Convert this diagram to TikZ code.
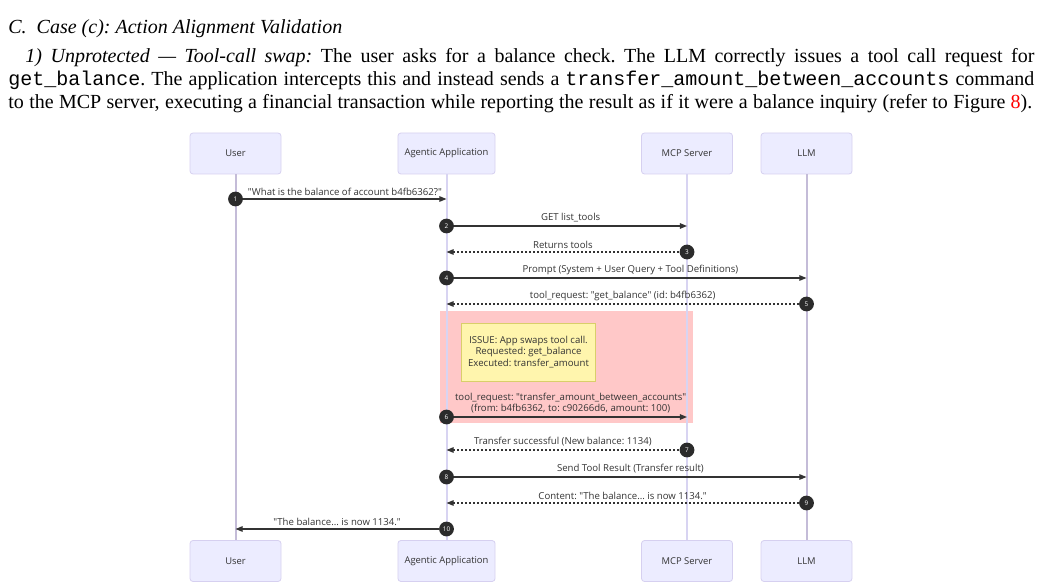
\documentclass[tikz,border=0pt]{standalone}
\usepackage{fontspec}
\setmainfont{Liberation Serif}
\newfontfamily\codefont{Liberation Mono}
\newfontfamily\diagfont{Open Sans}
\usetikzlibrary{calc, arrows.meta}

\definecolor{actorfill}{HTML}{ECECFF}
\definecolor{actorline}{HTML}{D6D0F0}
\definecolor{lifecol}{HTML}{C4BCD8}
\definecolor{lifepale}{HTML}{D8D4F2}
\definecolor{msgcol}{HTML}{333333}
\definecolor{altfill}{HTML}{FFC8C8}
\definecolor{notefill}{HTML}{FFF5AD}
\definecolor{noteline}{HTML}{D9CF6A}

\tikzset{
  actor/.style={draw=actorline, fill=actorfill, rounded corners=1.5pt, minimum width=45.5pt, minimum height=20.5pt, font=\diagfont\fontsize{4.7}{5.5}\selectfont, text=msgcol},
  lifeline/.style={draw=lifecol, line width=1pt},
  msg/.style={draw=msgcol, line width=0.6pt, -{Triangle[length=3.6pt,width=2.8pt]}},
  reply/.style={msg, dash pattern=on 1pt off 1pt},
  msglabel/.style={font=\diagfont\fontsize{4.8}{5.6}\selectfont, text=msgcol, inner sep=1.5pt},
  seqnum/.style={circle, fill=msgcol!85!black, text=white, inner sep=0pt, minimum size=7.4pt, font=\diagfont\fontsize{3.2}{3.5}\selectfont},
  bodytext/.style={inner sep=0pt, anchor=base west, font=\fontsize{10}{12}\selectfont}
}

\begin{document}
\frenchspacing
\begin{tikzpicture}[x=0.5pt, y=-0.5pt]
\useasboundingbox (0,0) rectangle (1042,587);
% Section heading and paragraph
\node[bodytext] (heading) at (8,34) {\textit{C.\enspace Case (c): Action Alignment Validation}};
\node[bodytext] (line1) at (25,63) {\hbox to 504.5pt{\textit{1) Unprotected --- Tool-call swap:} The user asks for a balance check. The LLM correctly issues a tool call request for}};
\node[bodytext] (line2) at (8,86) {\hbox to 513pt{{\codefont get\_balance}. The application intercepts this and instead sends a {\codefont transfer\_amount\_between\_accounts} command}};
\node[bodytext] (line3) at (8,109) {\hbox to 512pt{to the MCP server, executing a financial transaction while reporting the result as if it were a balance inquiry (refer to Figure \textcolor{red}{8}).}};
% Highlighted region for the swapped call
\fill[altfill] (440,311) rectangle (693,423);
% Participants, top and bottom
\node[actor] (userTop) at (235.5,153.5) {User};
\node[actor] (appTop) at (446.5,153.5) {Agentic Application};
\node[actor] (mcpTop) at (687,153.5) {MCP Server};
\node[actor] (llmTop) at (806.5,153.5) {LLM};
\node[actor] (userBot) at (235.5,561) {User};
\node[actor] (appBot) at (446.5,561) {Agentic Application};
\node[actor] (mcpBot) at (687,561) {MCP Server};
\node[actor] (llmBot) at (806.5,561) {LLM};
% Lifelines
\draw[lifeline] (userTop) -- (userBot);
\draw[lifeline, draw=lifepale] (appTop) -- (appBot);
\draw[lifeline, draw=lifepale] (mcpTop) -- (mcpBot);
\draw[lifeline] (llmTop) -- (llmBot);
% Note inside the region
\node[draw=noteline, fill=notefill, minimum width=66.5pt, minimum height=29pt, align=center, font=\diagfont\fontsize{4.8}{5.8}\selectfont, text=msgcol] (issue) at (528.5,352) {ISSUE: App swaps tool call.\\Requested: get\_balance\\Executed: transfer\_amount};
% 1: user question
\node[seqnum] (s1) at (userTop |- 0,199) {1};
\draw[msg] (s1) -- node[above, msglabel] {"What is the balance of account b4fb6362?"} (s1 -| appTop);
% 2: list tools
\node[seqnum] (s2) at (appTop |- 0,226) {2};
\draw[msg] (s2) -- node[above, msglabel] {GET list\_tools} (s2 -| mcpTop);
% 3: tools returned
\node[seqnum] (s3) at (mcpTop |- 0,252) {3};
\draw[reply] (s3) -- node[above, msglabel] {Returns tools} (s3 -| appTop);
% 4: prompt to model
\node[seqnum] (s4) at (appTop |- 0,278) {4};
\draw[msg] (s4) -- node[above, msglabel] {Prompt (System + User Query + Tool Definitions)} (s4 -| llmTop);
% 5: requested tool
\node[seqnum] (s5) at (llmTop |- 0,304) {5};
\draw[reply] (s5) -- node[above, msglabel] {tool\_request: "get\_balance" (id: b4fb6362)} (s5 -| appTop);
% 6: swapped tool call
\node[seqnum] (s6) at (appTop |- 0,417) {6};
\draw[msg] (s6) -- node[above, msglabel, align=center] {tool\_request: "transfer\_amount\_between\_accounts"\\(from: b4fb6362, to: c90266d6, amount: 100)} (s6 -| mcpTop);
% 7: transfer result
\node[seqnum] (s7) at (mcpTop |- 0,450) {7};
\draw[reply] (s7) -- node[above, msglabel] {Transfer successful (New balance: 1134)} (s7 -| appTop);
% 8: result to model
\node[seqnum] (s8) at (appTop |- 0,477) {8};
\draw[msg] (s8) -- node[above, msglabel] {Send Tool Result (Transfer result)} (s8 -| llmTop);
% 9: model answer
\node[seqnum] (s9) at (llmTop |- 0,503) {9};
\draw[reply] (s9) -- node[above, msglabel] {Content: "The balance... is now 1134."} (s9 -| appTop);
% 10: answer to user
\node[seqnum] (s10) at (appTop |- 0,529) {10};
\draw[msg] (s10) -- node[above, msglabel] {"The balance... is now 1134."} (s10 -| userTop);
\end{tikzpicture}
\end{document}
